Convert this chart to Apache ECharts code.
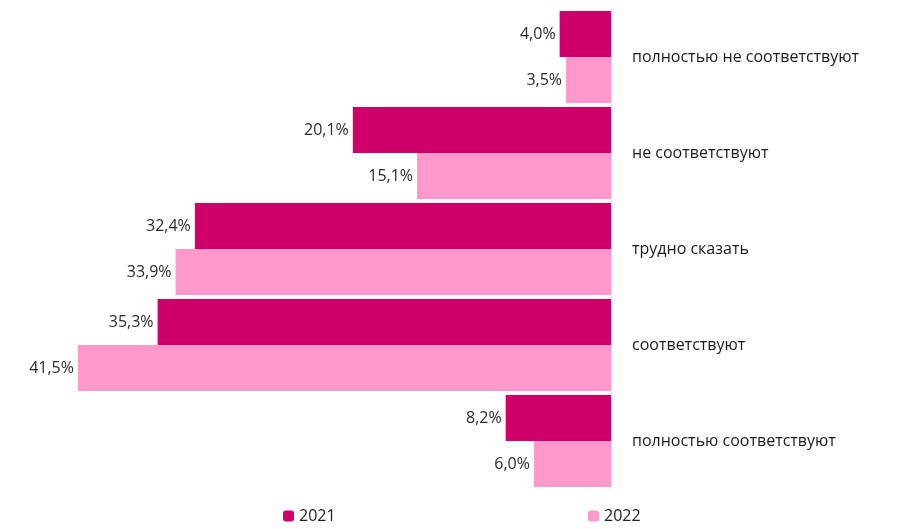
<!DOCTYPE html>
<html>
<head>
<meta charset="utf-8">
<script src="https://cdn.jsdelivr.net/npm/echarts@6/dist/echarts.min.js"></script>
<style>
  html, body { margin: 0; padding: 0; background: #fff; }
  #chart { width: 915px; height: 529px; }
</style>
</head>
<body>
<div id="chart"></div>
<script>
const categories = ['полностью не соответствуют', 'не соответствуют', 'трудно сказать', 'соответствуют', 'полностью соответствуют']
const values2021 = [4.0, 20.1, 32.4, 35.3, 8.2]
const values2022 = [3.5, 15.1, 33.9, 41.5, 6.0]

const chart = echarts.init(document.getElementById('chart'))

const labelOpt = {
  show: true,
  position: 'left',
  distance: 4,
  color: '#2a2a2a',
  fontSize: 16,
  fontFamily: 'Open Sans',
  formatter: p => p.value.toFixed(1).replace('.', ',') + '%'
}

chart.setOption({
  animation: false,
  textStyle: { fontFamily: 'Open Sans' },
  legend: [
    {
      data: ['2021'],
      left: 278,
      bottom: 0,
      itemWidth: 11,
      itemHeight: 11,
      itemGap: 5,
      textStyle: { fontSize: 16, color: '#222' }
    },
    {
      data: ['2022'],
      left: 583,
      bottom: 0,
      itemWidth: 11,
      itemHeight: 11,
      itemGap: 5,
      textStyle: { fontSize: 16, color: '#222' }
    }
  ],
  grid: { left: 33, right: 304, top: 9, bottom: 40 },
  // бары растут влево, подписи категорий справа
  xAxis: {
    type: 'value',
    inverse: true,
    min: 0,
    max: 45,
    show: false
  },
  yAxis: {
    type: 'category',
    data: categories,
    inverse: true,
    position: 'right',
    axisLine: { show: true, lineStyle: { color: '#e8e8e8' } },
    axisTick: { show: false },
    axisLabel: {
      margin: 21,
      color: '#1a1a1a',
      fontSize: 16,
      align: 'left'
    }
  },
  series: [
    {
      name: '2021',
      type: 'bar',
      data: values2021,
      barGap: '0%',
      barCategoryGap: '4%',
      itemStyle: { color: '#d0006a' },
      label: labelOpt
    },
    {
      name: '2022',
      type: 'bar',
      data: values2022,
      barGap: '0%',
      barCategoryGap: '4%',
      itemStyle: { color: '#ff99cc' },
      label: labelOpt
    }
  ]
})
</script>
</body>
</html>
